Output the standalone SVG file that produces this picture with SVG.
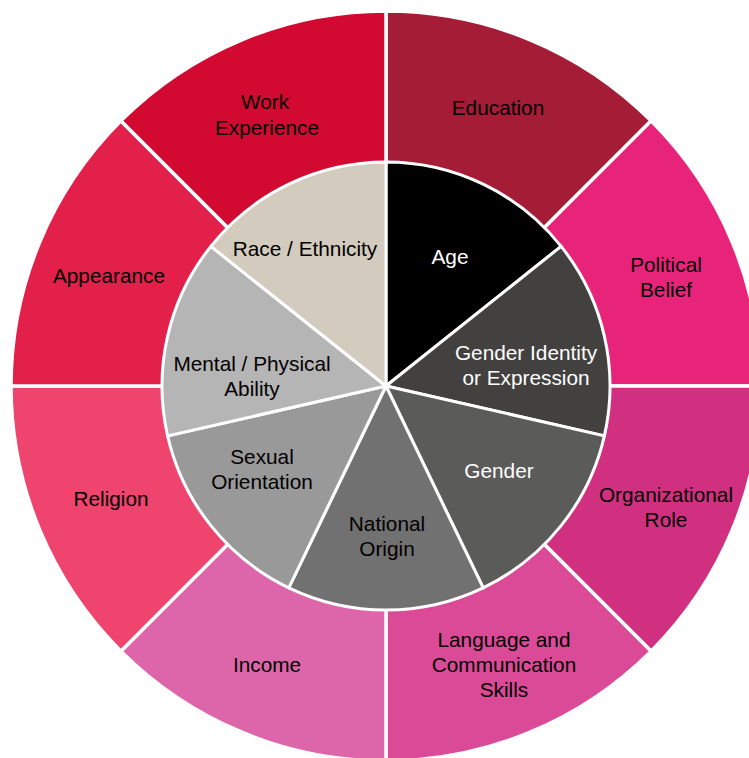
<svg xmlns="http://www.w3.org/2000/svg" width="749" height="758" viewBox="0 0 749 758">
<style>
.seg{stroke:#fff;stroke-width:3.5;stroke-linejoin:miter}
.in{stroke:#fff;stroke-width:3}
.lbl{font-family:"Liberation Sans",Arial,Helvetica,sans-serif;font-size:20.8px;text-anchor:middle;fill:#000}
.w{fill:#fff}
</style>
<rect width="749" height="758" fill="#fff"/>
<circle cx="386" cy="386" r="374" fill="none" stroke="#d8d8d8" stroke-width="1"/>
<g id="outer-ring">
<g id="education"><path class="seg" fill="#A51C37" d="M386,386 L386,11 A375,375 0 0 1 651.17,120.83 Z"/><text class="lbl" x="498" y="115">Education</text></g>
<g id="political-belief"><path class="seg" fill="#E8247A" d="M386,386 L651.17,120.83 A375,375 0 0 1 761,386 Z"/><text class="lbl" x="666" y="272">Political</text><text class="lbl" x="666" y="297">Belief</text></g>
<g id="organizational-role"><path class="seg" fill="#D12F80" d="M386,386 L761,386 A375,375 0 0 1 651.17,651.17 Z"/><text class="lbl" x="666" y="502">Organizational</text><text class="lbl" x="666" y="527">Role</text></g>
<g id="language"><path class="seg" fill="#DA4A97" d="M386,386 L651.17,651.17 A375,375 0 0 1 386,761 Z"/><text class="lbl" x="504" y="647">Language and</text><text class="lbl" x="504" y="672">Communication</text><text class="lbl" x="504" y="697">Skills</text></g>
<g id="income"><path class="seg" fill="#DC66A9" d="M386,386 L386,761 A375,375 0 0 1 120.83,651.17 Z"/><text class="lbl" x="267" y="672">Income</text></g>
<g id="religion"><path class="seg" fill="#EE446E" d="M386,386 L120.83,651.17 A375,375 0 0 1 11,386 Z"/><text class="lbl" x="111" y="506">Religion</text></g>
<g id="appearance"><path class="seg" fill="#E3204A" d="M386,386 L11,386 A375,375 0 0 1 120.83,120.83 Z"/><text class="lbl" x="109" y="283">Appearance</text></g>
<g id="work-experience"><path class="seg" fill="#D20A31" d="M386,386 L120.83,120.83 A375,375 0 0 1 386,11 Z"/><text class="lbl" x="265" y="109">Work</text><text class="lbl" x="267" y="135">Experience</text></g>
</g>
<g id="inner-circle">
<g id="age"><path class="in" fill="#000000" d="M386,386 L386,162 A224,224 0 0 1 561.13,246.34 Z"/><text class="lbl w" x="450" y="264">Age</text></g>
<g id="gender-identity"><path class="in" fill="#434140" d="M386,386 L561.13,246.34 A224,224 0 0 1 604.38,435.84 Z"/><text class="lbl w" x="526" y="360">Gender Identity</text><text class="lbl w" x="526" y="385">or Expression</text></g>
<g id="gender"><path class="in" fill="#5B5B5A" d="M386,386 L604.38,435.84 A224,224 0 0 1 483.19,587.82 Z"/><text class="lbl w" x="499" y="478">Gender</text></g>
<g id="national-origin"><path class="in" fill="#717171" d="M386,386 L483.19,587.82 A224,224 0 0 1 288.81,587.82 Z"/><text class="lbl" x="387" y="531">National</text><text class="lbl" x="387" y="556">Origin</text></g>
<g id="sexual-orientation"><path class="in" fill="#999999" d="M386,386 L288.81,587.82 A224,224 0 0 1 167.62,435.84 Z"/><text class="lbl" x="262" y="464">Sexual</text><text class="lbl" x="262" y="489">Orientation</text></g>
<g id="mental-physical-ability"><path class="in" fill="#B5B5B5" d="M386,386 L167.62,435.84 A224,224 0 0 1 210.87,246.34 Z"/><text class="lbl" x="252" y="371">Mental / Physical</text><text class="lbl" x="252" y="396">Ability</text></g>
<g id="race-ethnicity"><path class="in" fill="#D3CBBD" d="M386,386 L210.87,246.34 A224,224 0 0 1 386,162 Z"/><text class="lbl" x="305" y="256">Race / Ethnicity</text></g>
</g>
</svg>
